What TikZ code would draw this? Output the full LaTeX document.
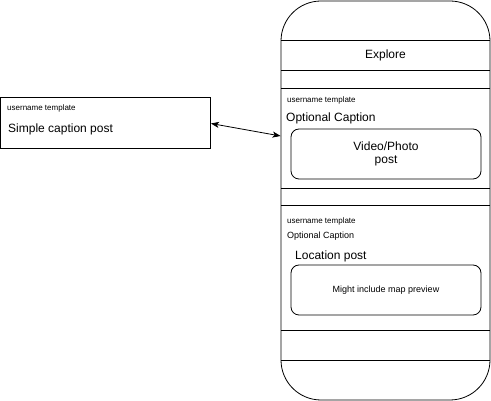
\documentclass[tikz,border=0pt]{standalone}
\usepackage{fontspec}
\setmainfont{Liberation Sans}
\usetikzlibrary{arrows, arrows.meta, positioning}
\tikzstyle{postbox} = [rectangle, minimum width=210pt, minimum height=51pt, draw=black, line width=0.8pt]
\tikzstyle{phonebox} = [rectangle, rounded corners=40pt, minimum width=209pt, minimum height=399pt, draw=black, line width=0.8pt]
\tikzstyle{mediabox} = [rectangle, rounded corners=8pt, minimum width=190pt, minimum height=50pt, text centered, align=center, draw=black, line width=0.8pt]
\tikzstyle{tiny} = [inner sep=0pt, anchor=west, font=\fontsize{8}{9}\selectfont]
\tikzstyle{small} = [inner sep=0pt, anchor=west, font=\fontsize{9}{10}\selectfont]
\tikzstyle{label} = [inner sep=0pt, anchor=west, font=\fontsize{12}{14}\selectfont]
\tikzstyle{divider} = [line width=0.8pt]
\tikzstyle{arrow} = [line width=0.8pt, {Stealth[length=8pt,width=6pt,inset=2pt]}-{Stealth[length=8pt,width=6pt,inset=2pt]}]

\begin{document}
\begin{tikzpicture}[x=1pt, y=1pt]
		\useasboundingbox (0,0) rectangle (491,401);
		% left post
		\node [postbox] (simple) at (105.5,278.5) {};
		\node [tiny]  (simpleuser) at (7,293)  {username template};
		\node [label] (simplecap)  at (8,272)  {Simple caption post};
		
		% phone
		\node [phonebox] (phone) at (385.5,200.5) {};
		\foreach \y in {361,331,313,213,196,71,41}
			\draw [divider] (281,\y) -- (490,\y);
		\node [font=\fontsize{12}{14}\selectfont] (explore) at (385.5,346) {Explore};
		
		% video post
		\node [tiny]  (videouser) at (287,301) {username template};
		\node [label] (videocap)  at (286,283) {Optional Caption};
		\node [mediabox, font=\fontsize{12}{13.5}\selectfont] (video) at (386,247) {Video/Photo\\post};
		
		% location post
		\node [tiny]  (locuser) at (287,180) {username template};
		\node [small] (loccap)  at (287,165) {Optional Caption};
		\node [label] (locpost) at (295,145) {Location post};
		\node [mediabox, font=\fontsize{9}{10}\selectfont] (location) at (386,111) {Might include map preview};
		
		\draw [arrow] ([yshift=-1pt]simple.east) -- ([yshift=64.5pt]phone.west);
	\end{tikzpicture}
\end{document}
